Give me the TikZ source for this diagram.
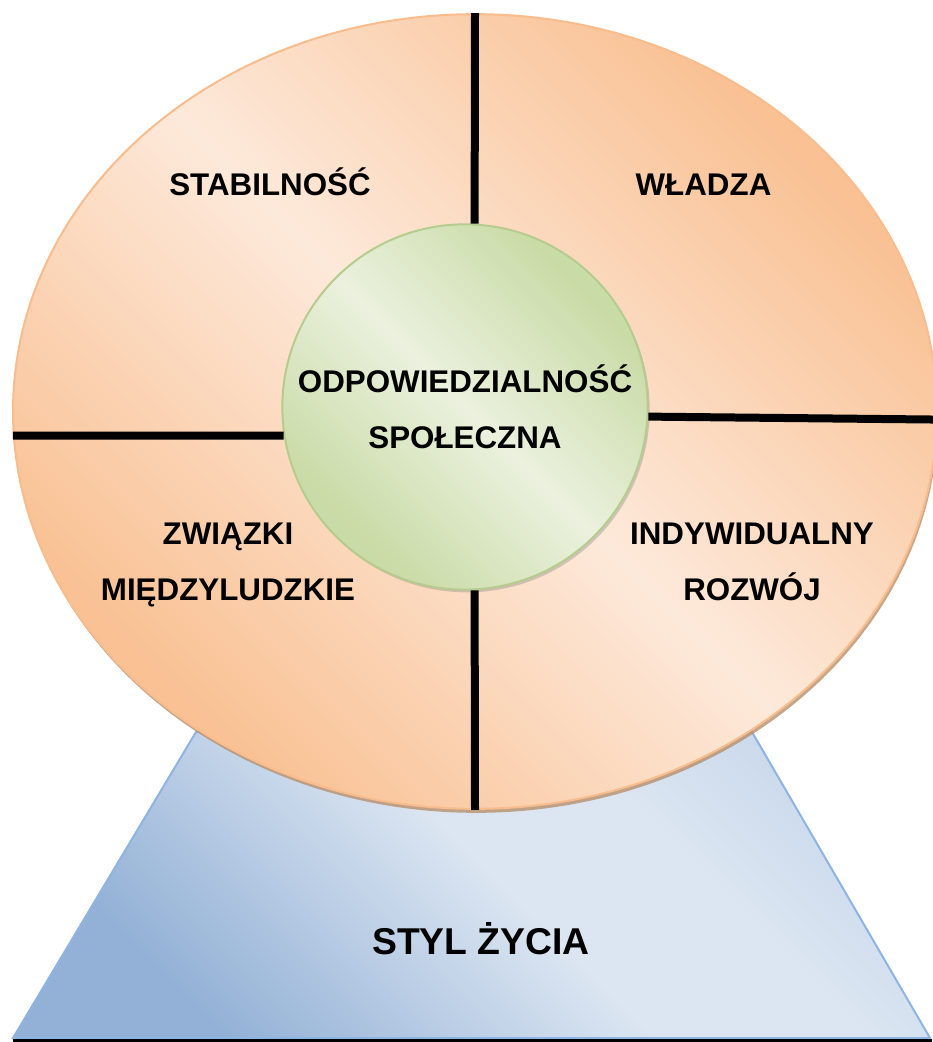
\documentclass[tikz,border=0pt]{standalone}
\usepackage{fontspec}
\setmainfont{Liberation Sans}
\usetikzlibrary{shapes.geometric,shadows}

\definecolor{peachlight}{HTML}{FDE9DA}
\definecolor{peachdark}{HTML}{F9C194}
\definecolor{peachline}{HTML}{F9BC8C}
\definecolor{greenlight}{HTML}{EBF1DE}
\definecolor{greendark}{HTML}{C9DBA6}
\definecolor{greenline}{HTML}{B5CC8E}
\definecolor{bluelight}{HTML}{DCE6F2}
\definecolor{bluemid}{HTML}{C6D6EA}
\definecolor{bluedark}{HTML}{93B1D6}
\definecolor{blueline}{HTML}{8EB4E3}
\definecolor{shadowbrown}{HTML}{B8906E}

% reflected gradients: dark at two opposite corners, light across the middle
\pgfdeclarehorizontalshading{peachmirror}{100bp}{color(0bp)=(peachdark); color(26bp)=(peachdark); color(50bp)=(peachlight); color(74bp)=(peachdark); color(100bp)=(peachdark)}
\pgfdeclarehorizontalshading{greenmirror}{100bp}{color(0bp)=(greendark); color(27bp)=(greendark); color(50bp)=(greenlight); color(73bp)=(greendark); color(100bp)=(greendark)}
\pgfdeclarehorizontalshading{bluemirror}{100bp}{color(0bp)=(bluedark); color(27bp)=(bluedark); color(52bp)=(bluelight); color(64bp)=(bluelight); color(78bp)=(bluemid); color(100bp)=(bluemid)}

\begin{document}
\begin{tikzpicture}[x=0.75pt,y=-0.75pt,
		disc/.style={ellipse,draw=peachline,line width=1.5pt,shading=peachmirror,shading angle=45,
			minimum width=693pt,minimum height=596pt,inner sep=0pt,
			drop shadow={shadow xshift=1pt,shadow yshift=-3pt,fill=shadowbrown,opacity=0.8}},
		core/.style={circle,draw=greenline,line width=1.5pt,shading=greenmirror,shading angle=45,
			minimum size=274pt,inner sep=0pt,align=center,font=\bfseries\fontsize{23.5}{42}\selectfont,
			drop shadow={shadow xshift=1.5pt,shadow yshift=-2pt,fill=gray,opacity=0.35}},
		sector/.style={align=center,inner sep=0pt,font=\bfseries\fontsize{23.5}{42}\selectfont},
		spoke/.style={line width=6pt},
		stand/.style={draw=blueline,line width=1.5pt,shading=bluemirror,shading angle=45},
		groundline/.style={line width=2.25pt}]

	\useasboundingbox (0,0) rectangle (932,1042);

	% stand
	\coordinate (standTL) at (196,732);
	\coordinate (standTR) at (752,732);
	\coordinate (standBR) at (930,1038);
	\coordinate (standBL) at (13,1038);
	\coordinate (groundL) at (13,1040);
	\coordinate (groundR) at (932,1040);
	\path[stand] (standTL) -- (standTR) -- (standBR) -- (standBL) -- cycle;
	\draw[groundline] (groundL) -- (groundR);
	\node[sector,font=\bfseries\fontsize{28}{34}\selectfont] (lifestyle) at (481,938.5) {STYL ŻYCIA};

	% wheel
	\node[disc] (disc) at (475,411.5) {};
	\node[core] (core) at (465,407) {ODPOWIEDZIALNOŚĆ\\SPOŁECZNA};

	\draw[spoke] (disc.north) -- (core.87);
	\draw[spoke] (disc.south) -- (core.-87);
	\draw[spoke] (disc.183) -- (core.189.5);
	\draw[spoke] (disc.-1) -- (core.-3.8);

	\node[sector] (stability) at (270,182) {STABILNOŚĆ};
	\node[sector] (power) at (703.5,185) {WŁADZA};
	\node[sector] (relations) at (228,565) {ZWIĄZKI\\MIĘDZYLUDZKIE};
	\node[sector] (growth) at (752,562) {INDYWIDUALNY\\ROZWÓJ};
\end{tikzpicture}
\end{document}
